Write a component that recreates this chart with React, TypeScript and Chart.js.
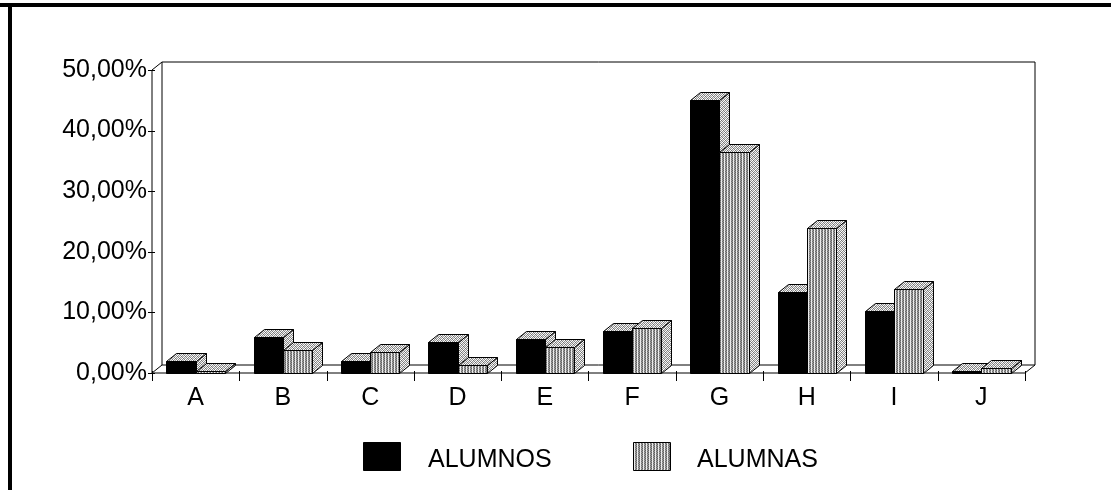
import React, { useEffect, useRef } from "react";
import { Chart, registerables } from "chart.js";

Chart.register(...registerables);

const categories = ["A", "B", "C", "D", "E", "F", "G", "H", "I", "J"];
const alumnos = [2.0, 5.9, 2.0, 5.1, 5.6, 6.9, 45.0, 13.3, 10.3, 0.3];
const alumnas = [0.4, 3.8, 3.5, 1.3, 4.3, 7.5, 36.5, 24.0, 13.8, 0.8];
const seriesLabels = ["ALUMNOS", "ALUMNAS"];

const FONT = "'Liberation Sans', Arial, sans-serif";
const DX = 10;
const DY = 8;

function makePattern(ctx: CanvasRenderingContext2D, rows: string[][]) {
  const c = document.createElement("canvas");
  c.width = rows[0].length;
  c.height = rows.length;
  const cx = c.getContext("2d")!;
  rows.forEach((row, y) =>
    row.forEach((col, x) => {
      cx.fillStyle = col;
      cx.fillRect(x, y, 1, 1);
    })
  );
  return ctx.createPattern(c, "repeat")!;
}

function poly(ctx: CanvasRenderingContext2D, pts: number[][], fill: any) {
  ctx.beginPath();
  ctx.moveTo(pts[0][0], pts[0][1]);
  for (let i = 1; i < pts.length; i++) ctx.lineTo(pts[i][0], pts[i][1]);
  ctx.closePath();
  ctx.fillStyle = fill;
  ctx.fill();
  ctx.strokeStyle = "#000";
  ctx.lineWidth = 1;
  ctx.stroke();
}

export default function App() {
  const ref = useRef<HTMLCanvasElement>(null);

  useEffect(() => {
    const canvas = ref.current!;
    const ctx = canvas.getContext("2d")!;
    const lightPat = makePattern(ctx, [
      ["#ffffff", "#707070", "#e0e0e0", "#a0a0a0"],
      ["#909090", "#f0f0f0", "#808080", "#ffffff"],
      ["#e0e0e0", "#a0a0a0", "#ffffff", "#707070"],
      ["#808080", "#ffffff", "#909090", "#f0f0f0"],
    ]);
    const frontPat = makePattern(ctx, [
      ["#606060", "#e8e8e8", "#a0a0a0"],
      ["#909090", "#f0f0f0", "#707070"],
    ]);
    const fronts = ["#000000", frontPat];

    const threeD = {
      id: "threeD",
      beforeDatasetsDraw(chart: any) {
        const c = chart.ctx;
        const ys = chart.scales.y;
        const xs = chart.scales.x;
        const L = chart.chartArea.left;
        const R = chart.chartArea.right;
        const B = ys.getPixelForValue(0);
        const T = ys.getPixelForValue(50);
        c.save();
        c.strokeStyle = "#000";
        c.lineWidth = 1;
        c.beginPath();
        // back wall
        c.moveTo(L + DX, B - DY);
        c.lineTo(L + DX, T - DY);
        c.lineTo(R + DX, T - DY);
        c.lineTo(R + DX, B - DY);
        c.lineTo(L + DX, B - DY);
        // left wall / axis
        c.moveTo(L, B);
        c.lineTo(L, T);
        c.lineTo(L + DX, T - DY);
        // floor front
        c.moveTo(L, B);
        c.lineTo(R, B);
        c.lineTo(R + DX, B - DY);
        c.moveTo(L, B);
        c.lineTo(L + DX, B - DY);
        c.stroke();
        // y ticks
        c.beginPath();
        for (const t of ys.ticks) {
          const y = Math.round(ys.getPixelForValue(t.value)) + 0.5;
          c.moveTo(L - 4, y);
          c.lineTo(L + 3, y);
        }
        // x ticks at category boundaries
        const n = categories.length;
        const step = xs.getPixelForValue(1) - xs.getPixelForValue(0);
        for (let i = 0; i <= n; i++) {
          const x = Math.round(xs.getPixelForValue(0) - step / 2 + i * step) + 0.5;
          c.moveTo(x, B - 2);
          c.lineTo(x, B + 8);
        }
        c.stroke();
        c.restore();
      },
      afterDatasetsDraw(chart: any) {
        const c = chart.ctx;
        const metas = [chart.getDatasetMeta(0), chart.getDatasetMeta(1)];
        c.save();
        for (let i = 0; i < categories.length; i++) {
          metas.forEach((meta: any, d: number) => {
            const bar = meta.data[i];
            const p = bar.getProps(["x", "y", "base", "width"], true);
            const l = Math.round(p.x - p.width / 2) + 0.5;
            const r = Math.round(p.x + p.width / 2) + 0.5;
            const t = Math.round(p.y) + 0.5;
            const b = Math.round(p.base) + 0.5;
            poly(c, [[r, t], [r + DX, t - DY], [r + DX, b - DY], [r, b]], lightPat);
            poly(c, [[l, t], [l + DX, t - DY], [r + DX, t - DY], [r, t]], lightPat);
            poly(c, [[l, t], [r, t], [r, b], [l, b]], fronts[d]);
          });
        }
        c.restore();
      },
      afterDraw(chart: any) {
        const c = chart.ctx;
        c.save();
        // frame
        c.fillStyle = "#000";
        c.fillRect(0, 3, chart.width, 4);
        c.fillRect(8, 3, 4, chart.height - 3);
        // legend
        const items = [
          { x: 363, tx: 428 },
          { x: 633, tx: 697 },
        ];
        items.forEach((it, d) => {
          poly(c, [[it.x + 0.5, 442.5], [it.x + 37.5, 442.5], [it.x + 37.5, 470.5], [it.x + 0.5, 470.5]], fronts[d]);
          c.fillStyle = "#000";
          c.font = `25px ${FONT}`;
          c.textBaseline = "alphabetic";
          c.textAlign = "left";
          c.fillText(chart.data.datasets[d].label, it.tx, 467);
        });
        c.restore();
      },
    };

    const chart = new Chart(canvas, {
      type: "bar",
      data: {
        labels: categories,
        datasets: [
          { label: seriesLabels[0], data: alumnos, backgroundColor: "rgba(0,0,0,0)", borderWidth: 0 },
          { label: seriesLabels[1], data: alumnas, backgroundColor: "rgba(0,0,0,0)", borderWidth: 0 },
        ],
      },
      options: {
        animation: false,
        responsive: false,
        events: [],
        layout: { padding: { left: 0, top: 70, right: 86, bottom: 0 } },
        datasets: { bar: { categoryPercentage: 0.67, barPercentage: 1 } },
        plugins: { legend: { display: false }, tooltip: { enabled: false } },
        scales: {
          x: {
            grid: { display: false, drawTicks: false },
            border: { display: false },
            ticks: { color: "#000", font: { family: FONT, size: 25 }, padding: 10 },
            afterFit: (s: any) => {
              s.height = 117;
            },
          },
          y: {
            min: 0,
            max: 50,
            grid: { display: false, drawTicks: false },
            border: { display: false },
            ticks: {
              stepSize: 10,
              color: "#000",
              font: { family: FONT, size: 25 },
              padding: 5,
              callback: (v: any) => Number(v).toFixed(2).replace(".", ",") + "%",
            },
            afterFit: (s: any) => {
              s.width = 152;
            },
          },
        },
      },
      plugins: [threeD],
    });
    return () => chart.destroy();
  }, []);

  return (
    <div style={{ position: "fixed", left: 0, top: 0, width: 1111, height: 490, background: "#fff" }}>
      <canvas ref={ref} width={1111} height={490} style={{ display: "block" }} />
    </div>
  );
}
